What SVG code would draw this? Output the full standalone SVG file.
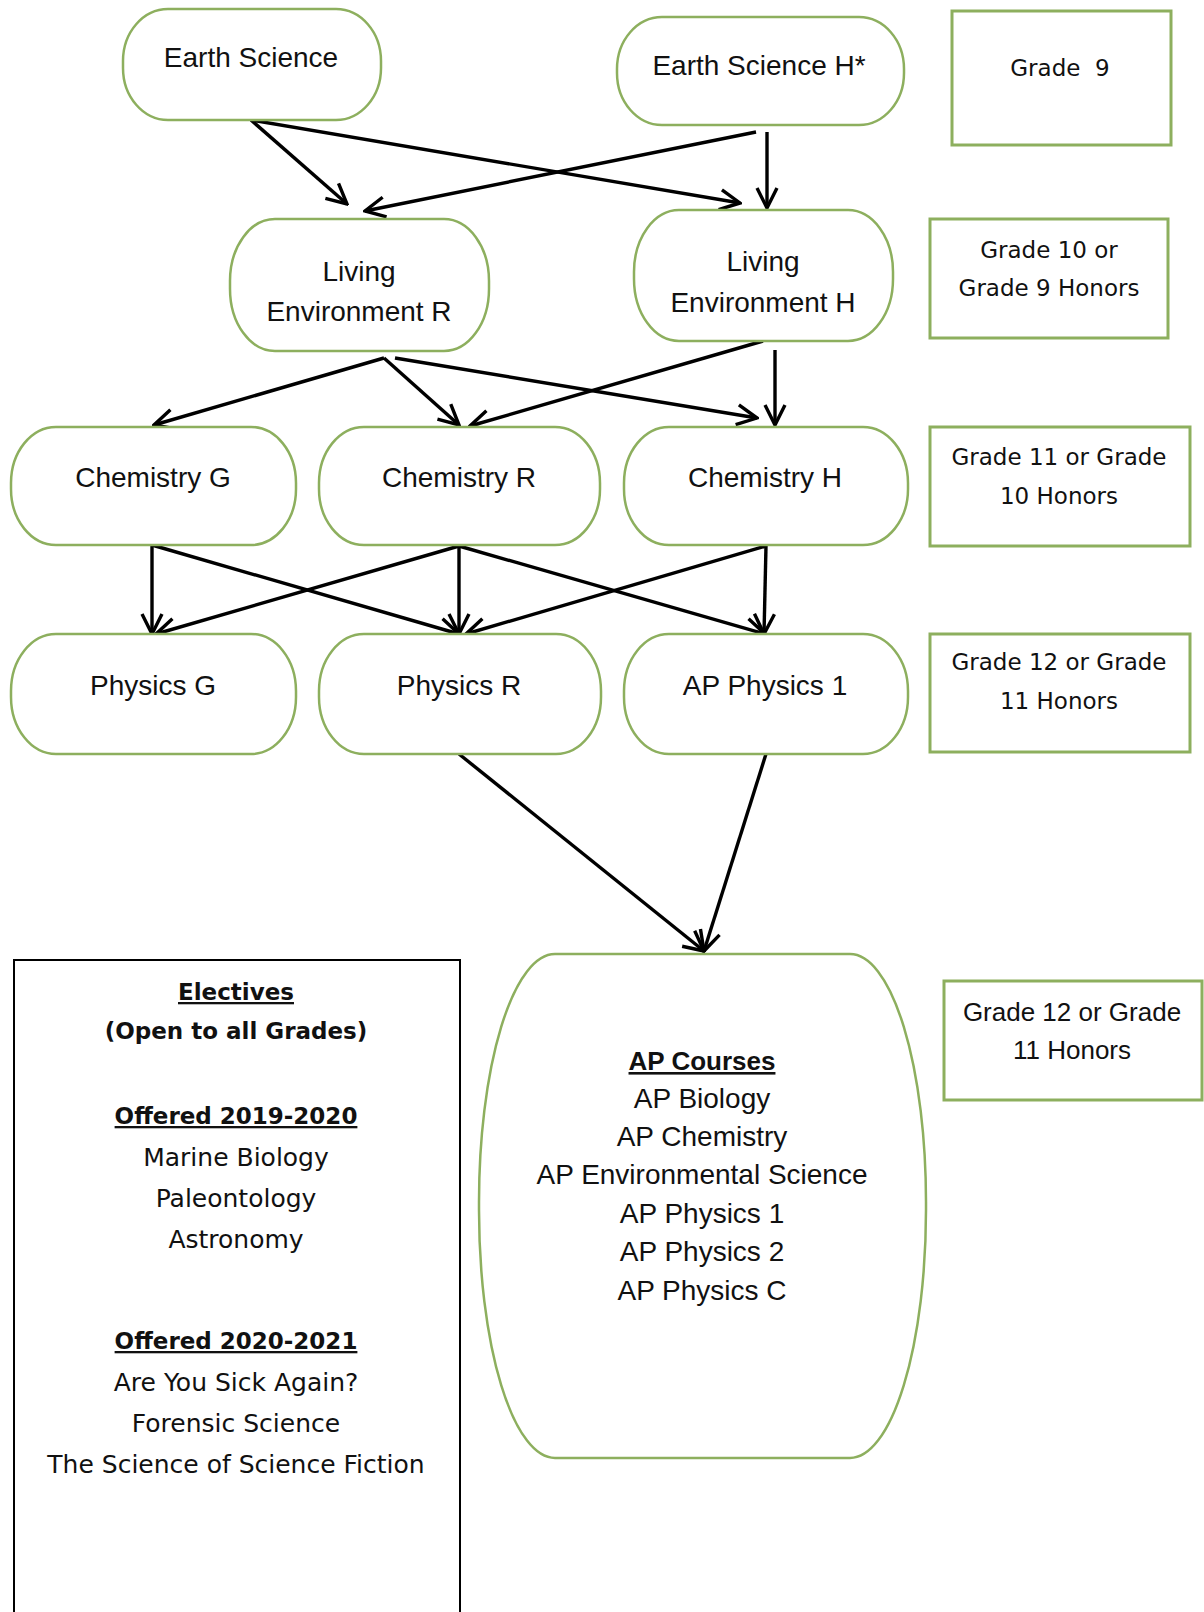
<svg xmlns="http://www.w3.org/2000/svg" width="1204" height="1612" viewBox="0 0 1204 1612">
<defs>
<style>
.node{fill:#fff;stroke:#8DAF5E;stroke-width:2.5}
.grade{fill:#fff;stroke:#8DAF5E;stroke-width:3}
.t{font-family:"Liberation Sans",Arial,sans-serif;font-size:28px;fill:#111;text-anchor:middle}
.g{font-family:"DejaVu Sans",Verdana,sans-serif;font-size:23px;fill:#111;text-anchor:middle;white-space:pre}
.e{font-family:"DejaVu Sans",Verdana,sans-serif;font-size:25px;fill:#111;text-anchor:middle}
.eb{font-family:"DejaVu Sans",Verdana,sans-serif;font-size:23px;font-weight:bold;fill:#111;text-anchor:middle}
.u{text-decoration:underline}
.c{fill:none;stroke:#000;stroke-width:3.4;marker-end:url(#arr)}
</style>
<marker id="arr" viewBox="0 0 24 24" refX="22" refY="12" markerWidth="24" markerHeight="24" markerUnits="userSpaceOnUse" orient="auto">
<path d="M2,2 L22,12 L2,22" fill="none" stroke="#000" stroke-width="3.4"/>
</marker>
</defs>
<rect width="1204" height="1612" fill="#fff"/>

<g id="connectors">
<line class="c" x1="251" y1="120" x2="347" y2="204"/>
<line class="c" x1="251" y1="120" x2="740" y2="203"/>
<line class="c" x1="756" y1="132" x2="365" y2="211"/>
<line class="c" x1="767" y1="132" x2="767" y2="208"/>
<line class="c" x1="384" y1="358" x2="154" y2="425"/>
<line class="c" x1="384" y1="358" x2="459" y2="425"/>
<line class="c" x1="395" y1="358" x2="757" y2="418"/>
<line class="c" x1="763" y1="341" x2="470" y2="426"/>
<line class="c" x1="775" y1="350" x2="775" y2="425"/>
<line class="c" x1="152" y1="545" x2="152" y2="634"/>
<line class="c" x1="152" y1="545" x2="459" y2="634"/>
<line class="c" x1="459" y1="546" x2="156" y2="634"/>
<line class="c" x1="459" y1="546" x2="459" y2="634"/>
<line class="c" x1="459" y1="546" x2="765" y2="634"/>
<line class="c" x1="766" y1="546" x2="466" y2="634"/>
<line class="c" x1="766" y1="546" x2="764" y2="634"/>
<line class="c" x1="459" y1="754" x2="704" y2="951"/>
<line class="c" x1="766" y1="754" x2="704" y2="951"/>
</g>

<g id="earth-science"><rect class="node" x="123" y="9" width="258" height="111" rx="45" ry="52"/><text class="t" x="251" y="67">Earth Science</text></g>
<g id="earth-science-h"><rect class="node" x="617" y="17" width="287" height="108" rx="45" ry="52"/><text class="t" x="759" y="75">Earth Science H*</text></g>
<g id="grade-9"><rect class="grade" x="952" y="11" width="219" height="134"/><text class="g" x="1060" y="76">Grade  9</text></g>

<g id="living-env-r"><rect class="node" x="230" y="219" width="259" height="132" rx="45" ry="62"/><text class="t" x="359" y="281">Living</text><text class="t" x="359" y="321">Environment R</text></g>
<g id="living-env-h"><rect class="node" x="634" y="210" width="259" height="131" rx="45" ry="62"/><text class="t" x="763" y="271">Living</text><text class="t" x="763" y="312">Environment H</text></g>
<g id="grade-10"><rect class="grade" x="930" y="219" width="238" height="119"/><text class="g" x="1049" y="258">Grade 10 or</text><text class="g" x="1049" y="296">Grade 9 Honors</text></g>

<g id="chemistry-g"><rect class="node" x="11" y="427" width="285" height="118" rx="45" ry="56"/><text class="t" x="153" y="487">Chemistry G</text></g>
<g id="chemistry-r"><rect class="node" x="319" y="427" width="281" height="118" rx="45" ry="56"/><text class="t" x="459" y="487">Chemistry R</text></g>
<g id="chemistry-h"><rect class="node" x="624" y="427" width="284" height="118" rx="45" ry="56"/><text class="t" x="765" y="487">Chemistry H</text></g>
<g id="grade-11"><rect class="grade" x="930" y="427" width="260" height="119"/><text class="g" x="1059" y="465">Grade 11 or Grade</text><text class="g" x="1059" y="504">10 Honors</text></g>

<g id="physics-g"><rect class="node" x="11" y="634" width="285" height="120" rx="45" ry="57"/><text class="t" x="153" y="695">Physics G</text></g>
<g id="physics-r"><rect class="node" x="319" y="634" width="282" height="120" rx="45" ry="57"/><text class="t" x="459" y="695">Physics R</text></g>
<g id="ap-physics-1"><rect class="node" x="624" y="634" width="284" height="120" rx="45" ry="57"/><text class="t" x="765" y="695">AP Physics 1</text></g>
<g id="grade-12"><rect class="grade" x="930" y="634" width="260" height="118"/><text class="g" x="1059" y="670">Grade 12 or Grade</text><text class="g" x="1059" y="709">11 Honors</text></g>

<g id="ap-courses"><rect class="node" x="479" y="954" width="447" height="504" rx="76" ry="248"/>
<text class="t u" x="702" y="1070" style="font-weight:bold;font-size:26px">AP Courses</text>
<text class="t" x="702" y="1108">AP Biology</text>
<text class="t" x="702" y="1146">AP Chemistry</text>
<text class="t" x="702" y="1184">AP Environmental Science</text>
<text class="t" x="702" y="1223">AP Physics 1</text>
<text class="t" x="702" y="1261">AP Physics 2</text>
<text class="t" x="702" y="1300">AP Physics C</text>
</g>
<g id="grade-12-ap"><rect class="grade" x="944" y="981" width="258" height="119"/><text class="t" x="1072" y="1021" style="font-size:26px">Grade 12 or Grade</text><text class="t" x="1072" y="1059" style="font-size:26px">11 Honors</text></g>

<g id="electives"><rect x="14" y="960" width="446" height="700" fill="#fff" stroke="#000" stroke-width="2"/>
<text class="eb u" x="236" y="1000">Electives</text>
<text class="eb" x="236" y="1039">(Open to all Grades)</text>
<text class="eb u" x="236" y="1124">Offered 2019-2020</text>
<text class="e" x="236" y="1166">Marine Biology</text>
<text class="e" x="236" y="1207">Paleontology</text>
<text class="e" x="236" y="1248">Astronomy</text>
<text class="eb u" x="236" y="1349">Offered 2020-2021</text>
<text class="e" x="236" y="1391">Are You Sick Again?</text>
<text class="e" x="236" y="1432">Forensic Science</text>
<text class="e" x="236" y="1473">The Science of Science Fiction</text>
</g>
</svg>
